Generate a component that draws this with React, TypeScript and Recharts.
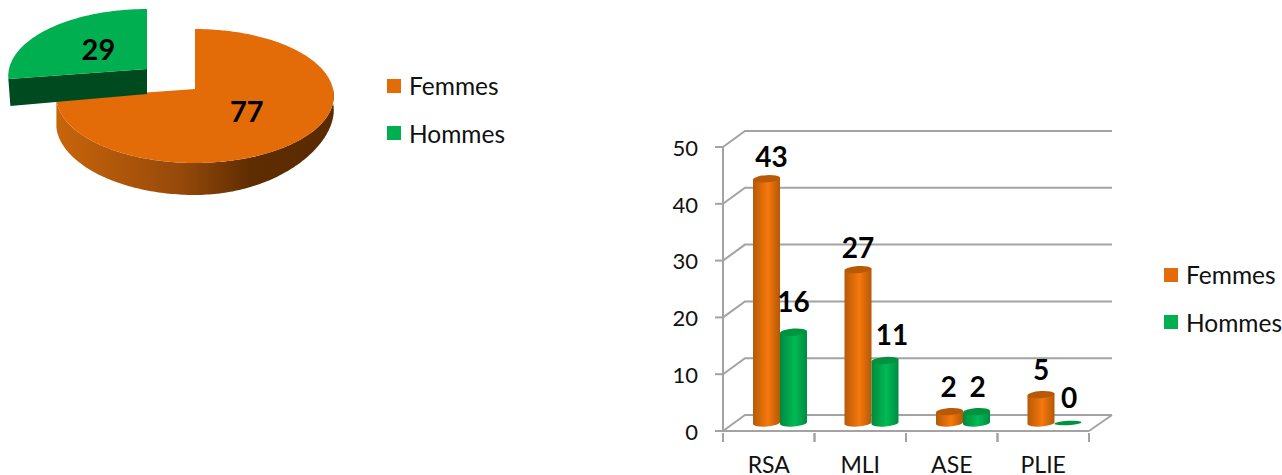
import React from "react";
import { PieChart, Pie, BarChart, Bar, XAxis, YAxis, CartesianGrid, Legend, LabelList } from "recharts";

// pie
const pieNames = ["Femmes", "Hommes"];
const pieValues = [77, 29];
const pieColors = ["#E36C09", "#00B050"];

// bars
const categories = ["RSA", "MLI", "ASE", "PLIE"];
const femmes = [43, 27, 2, 5];
const hommes = [16, 11, 2, 0];
const yTicks = [0, 10, 20, 30, 40, 50];

const pieData = pieNames.map((name, i) => ({ name, value: pieValues[i], fill: pieColors[i] }));
const barData = categories.map((category, i) => ({ category, femmes: femmes[i], hommes: hommes[i] }));

const FONT = "Lato, sans-serif";
const GRID = "#A3A3A3";
const SQUASH = 0.48;
const PERSPECTIVE = 0.1045;

// 3d floor offset of the bars chart
const PLOT_BOTTOM = 311;
const BAND = 91.5;
const BAR_DX = 11;
const BAR_DY = -8;

// hand placement of the value labels, same order as the categories
const femmesNudge = [[5, -23], [0, -23], [-1, -26], [0, -26]];
const hommesNudge = [[0, -31], [7, -27], [1, -26], [1, -26]];

function project(cx: number, cy: number, r: number, deg: number, frac = 1) {
  const a = (deg * Math.PI) / 180;
  const u = Math.cos(a) * frac;
  const v = Math.sin(a) * frac;
  const s = 1 / (1 + PERSPECTIVE * v);
  return { x: cx + r * u * s, y: cy - r * SQUASH * v * s, u };
}

function arcPoints(cx: number, cy: number, r: number, from: number, to: number) {
  const pts = [];
  const steps = Math.max(2, Math.ceil(Math.abs(to - from)));
  for (let i = 0; i <= steps; i++) pts.push(project(cx, cy, r, from + ((to - from) * i) / steps));
  return pts;
}

const wallDepth = (u: number) => (u > 0 ? 32 - 18 * u * u : 32 - 4 * u * u);
const toPath = (pts: { x: number; y: number }[]) =>
  pts.map((p, i) => `${i ? "L" : "M"}${p.x.toFixed(1)},${p.y.toFixed(1)}`).join(" ");

function PieSlice(props: any) {
  const { cx, cy, outerRadius, startAngle, endAngle, fill, name } = props;
  const exploded = name === "Hommes";
  const ox = exploded ? cx - 48 : cx;
  const oy = exploded ? cy - 20 : cy;
  const rim = arcPoints(ox, oy, outerRadius, startAngle, endAngle);
  const top = `M${ox},${oy} ${toPath(rim).replace("M", "L")} Z`;
  if (exploded) {
    const a = rim[0];
    const wall = `M${a.x},${a.y} L${a.x + 2},${a.y + 27} L${ox},${oy + 25} L${ox},${oy} Z`;
    return (
      <g>
        <path d={wall} fill="#004A20" />
        <path d={top} fill={fill} />
      </g>
    );
  }
  const front = arcPoints(ox, oy, outerRadius, endAngle, 0);
  const under = front.map((p) => ({ x: p.x, y: p.y + wallDepth(p.u) })).reverse();
  return (
    <g>
      <path d={`${toPath(front)} ${toPath(under).replace("M", "L")} Z`} fill="url(#pieWall)" />
      <path d={top} fill={fill} />
    </g>
  );
}

function PieValue(props: any) {
  const { cx, cy, outerRadius, midAngle, value, name } = props;
  const exploded = name === "Hommes";
  const p = project(exploded ? cx - 48 : cx, exploded ? cy - 20 : cy, outerRadius, midAngle, 0.48);
  return (
    <text x={p.x} y={p.y} textAnchor="middle" dominantBaseline="central" fontFamily={FONT} fontWeight={700} fontSize={29} fill="#000">
      {value}
    </text>
  );
}

function LegendBox({ payload }: any) {
  return (
    <div style={{ fontFamily: FONT, fontSize: 24.5, color: "#111" }}>
      {(payload || []).map((item: any) => (
        <div key={item.value} style={{ display: "flex", alignItems: "center", height: 47.5 }}>
          <span style={{ width: 14, height: 14, background: item.color, marginRight: 8 }} />
          <span>{item.value}</span>
        </div>
      ))}
    </div>
  );
}

function Cylinder(props: any) {
  const { x, y, width, height, value, gradient, capColor } = props;
  const rx = width / 2;
  const cx = x + rx + BAR_DX;
  const left = x + BAR_DX;
  const right = left + width;
  const yTop = y + BAR_DY;
  const yBottom = y + height + BAR_DY;
  if (!value) {
    return <ellipse cx={cx} cy={yBottom} rx={rx} ry={2.2} fill={capColor} transform={`rotate(-3 ${cx} ${yBottom})`} />;
  }
  return (
    <g>
      <path
        d={`M${left},${yTop + 1} L${right},${yTop - 1} L${right},${yBottom - 1} A${rx},3.5 -4 0 1 ${left},${yBottom + 1} Z`}
        fill={`url(#${gradient})`}
      />
      <ellipse cx={cx} cy={yTop} rx={rx} ry={3.6} fill={capColor} transform={`rotate(-4 ${cx} ${yTop})`} />
    </g>
  );
}

function GridLine(props: any) {
  const { x1, y1, x2 } = props;
  const isFloor = Math.abs(y1 - PLOT_BOTTOM) < 1;
  return (
    <g fill="none" stroke={GRID} strokeWidth={2}>
      <path d={`M${x1},${y1} L${x1 + 22},${y1 - 16} L${x2 + 23},${y1 - 16}`} />
      {isFloor && <path d={`M${x2},${y1} L${x2 + 23},${y1 - 16}`} />}
    </g>
  );
}

function CategoryTick(props: any) {
  const { x, y, payload } = props;
  return (
    <g>
      <line x1={x - BAND / 2} x2={x - BAND / 2} y1={y - 6} y2={y + 3} stroke={GRID} strokeWidth={2} />
      <line x1={x + BAND / 2} x2={x + BAND / 2} y1={y - 6} y2={y + 3} stroke={GRID} strokeWidth={2} />
      <text x={x} y={y + 34} textAnchor="middle" fontFamily={FONT} fontSize={23} fill="#111">
        {payload.value}
      </text>
    </g>
  );
}

const valueLabel = (nudges: number[][]) => (props: any) => {
  const { x, y, width, value, index } = props;
  const [dx, dy] = nudges[index];
  return (
    <text
      x={x + width / 2 + BAR_DX + dx}
      y={y + BAR_DY + dy}
      textAnchor="middle"
      dominantBaseline="central"
      fontFamily={FONT}
      fontWeight={700}
      fontSize={28}
      fill="#000"
    >
      {value}
    </text>
  );
};

export default function App() {
  return (
    <div style={{ position: "absolute", left: 0, top: 0, width: 1282, height: 475, overflow: "hidden", background: "#fff" }}>
      <div style={{ position: "absolute", left: 0, top: 0 }}>
        <PieChart width={520} height={210} margin={{ top: 0, right: 0, bottom: 0, left: 0 }}>
          <defs>
            <linearGradient id="pieWall" x1="0" x2="1" y1="0" y2="0">
              <stop offset="0" stopColor="#C8650A" />
              <stop offset="0.45" stopColor="#96490A" />
              <stop offset="0.7" stopColor="#5F2D02" />
              <stop offset="1" stopColor="#5A2A00" />
            </linearGradient>
          </defs>
          <Pie
            data={pieData}
            dataKey="value"
            nameKey="name"
            cx={195}
            cy={89}
            outerRadius={138}
            startAngle={90}
            endAngle={-270}
            stroke="none"
            isAnimationActive={false}
            shape={PieSlice}
            label={PieValue}
            labelLine={false}
          />
          <Legend
            layout="vertical"
            align="center"
            verticalAlign="middle"
            content={LegendBox}
            wrapperStyle={{ left: 387, top: 62, width: 130 }}
          />
        </PieChart>
      </div>

      <div style={{ position: "absolute", left: 640, top: 120 }}>
        <BarChart
          width={642}
          height={355}
          data={barData}
          barSize={27}
          barGap={0}
          margin={{ top: 27, right: 193, bottom: 0, left: 0 }}
        >
          <defs>
            <linearGradient id="barOrange" x1="0" x2="1" y1="0" y2="0">
              <stop offset="0" stopColor="#B65A08" />
              <stop offset="0.55" stopColor="#F6780C" />
              <stop offset="1" stopColor="#B45807" />
            </linearGradient>
            <linearGradient id="barGreen" x1="0" x2="1" y1="0" y2="0">
              <stop offset="0" stopColor="#008A3E" />
              <stop offset="0.55" stopColor="#00BA55" />
              <stop offset="1" stopColor="#008C40" />
            </linearGradient>
          </defs>
          <CartesianGrid vertical={false} horizontal={GridLine} />
          <XAxis
            dataKey="category"
            height={44}
            axisLine={{ stroke: GRID, strokeWidth: 2 }}
            tickLine={false}
            tick={CategoryTick}
            interval={0}
          />
          <YAxis
            domain={[0, 50]}
            ticks={yTicks}
            width={83}
            axisLine={{ stroke: GRID, strokeWidth: 2 }}
            tickLine={{ stroke: GRID, strokeWidth: 2 }}
            tickSize={8}
            tickMargin={17}
            tick={{ fontFamily: FONT, fontSize: 22, fill: "#111", dy: 1 }}
          />
          <Bar
            dataKey="femmes"
            name="Femmes"
            fill="#E36C09"
            isAnimationActive={false}
            shape={(p: any) => <Cylinder {...p} gradient="barOrange" capColor="#B85A05" />}
          >
            <LabelList dataKey="femmes" content={valueLabel(femmesNudge)} />
          </Bar>
          <Bar
            dataKey="hommes"
            name="Hommes"
            fill="#00B050"
            isAnimationActive={false}
            shape={(p: any) => <Cylinder {...p} gradient="barGreen" capColor="#00933F" />}
          >
            <LabelList dataKey="hommes" content={valueLabel(hommesNudge)} />
          </Bar>
          <Legend
            layout="vertical"
            align="center"
            verticalAlign="middle"
            content={LegendBox}
            wrapperStyle={{ left: 524, top: 131, width: 118 }}
          />
        </BarChart>
      </div>
    </div>
  );
}
